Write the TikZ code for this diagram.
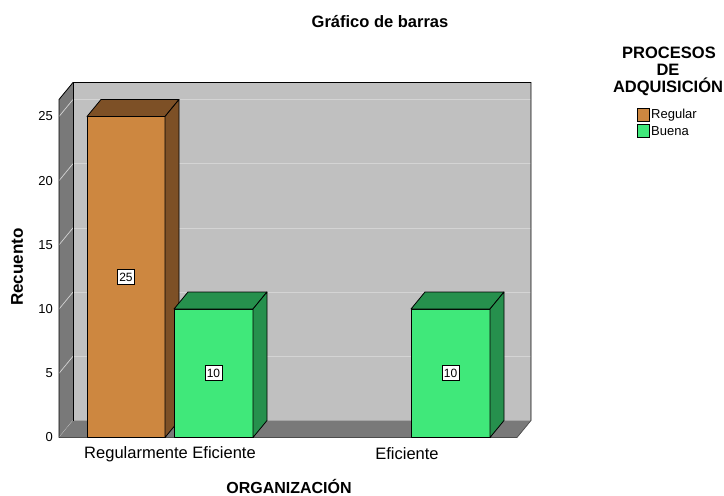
\documentclass[tikz,border=0pt]{standalone}
\usepackage{fontspec}
\setmainfont{Liberation Sans}
\begin{document}
\begin{tikzpicture}[x=1pt,y=-1pt,
  orf/.style={fill=orfront,draw=black,line width=0.8pt,line join=round},
  ors/.style={fill=orside,draw=black,line width=0.8pt,line join=round},
  grf/.style={fill=grfront,draw=black,line width=0.8pt,line join=round},
  grs/.style={fill=grside,draw=black,line width=0.8pt,line join=round},
  vlab/.style={draw=black,fill=white,font=\fontsize{12}{13}\selectfont,inner xsep=2pt,inner ysep=3pt,line width=0.6pt},
  tick/.style={font=\fontsize{13}{14}\selectfont,anchor=east,inner sep=0pt},
  lgt/.style={font=\bfseries\fontsize{16.5}{17}\selectfont,inner sep=0pt},
  grid/.style={draw=gridc,line width=0.7pt}]
\definecolor{orfront}{RGB}{205,135,64}
\definecolor{orside}{RGB}{125,80,38}
\definecolor{grfront}{RGB}{64,232,122}
\definecolor{grside}{RGB}{38,144,77}
\definecolor{wallc}{RGB}{121,121,121}
\definecolor{backc}{RGB}{192,192,192}
\definecolor{gridc}{RGB}{212,212,212}
\useasboundingbox[fill=white] (0,0) rectangle (724,496);
% back wall
\fill[backc] (73,82.5) rectangle (531,420.5);
\foreach \v in {5,10,15,20,25}{
  \draw[grid] (73,{420.5-\v*12.84}) -- (531,{420.5-\v*12.84});
}
% left wall
\fill[wallc] (59,437.5) -- (59,99.5) -- (73,82.5) -- (73,420.5) -- cycle;
\foreach \v in {0,5,10,15,20,25}{
  \draw[grid] (59,{437.5-\v*12.84}) -- (73,{420.5-\v*12.84});
}
% floor
\fill[wallc] (59,437.5) -- (517,437.5) -- (531,420.5) -- (73,420.5) -- cycle;
\draw[black!70,line width=0.7pt] (59,437.5) -- (517,437.5) -- (531,420.5);
\draw[black,line width=0.8pt] (59,437.5) -- (59,99.5) -- (73,82.5) -- (531,82.5) -- (531,420.5);
\draw[black,line width=0.6pt] (73,82.5) -- (73,420.5);
% tick labels
\foreach \v in {0,5,10,15,20,25}{
  \node[tick] (t\v) at (53,{437.5-\v*12.84}) {\v};
}
% bar 1 orange
\draw[orf] (87,437.5) rectangle (165,116.5);
\draw[ors] (87,116.5) -- (101,99.5) -- (179,99.5) -- (165,116.5) -- cycle;
\draw[ors] (165,437.5) -- (165,116.5) -- (179,99.5) -- (179,420.5) -- cycle;
% bar 2 green
\draw[grf] (174,437.5) rectangle (253,309);
\draw[grs] (174,309) -- (188,292) -- (267,292) -- (253,309) -- cycle;
\draw[grs] (253,437.5) -- (253,309) -- (267,292) -- (267,420.5) -- cycle;
% bar 3 green
\draw[grf] (411,437.5) rectangle (490,309);
\draw[grs] (411,309) -- (425,292) -- (504,292) -- (490,309) -- cycle;
\draw[grs] (490,437.5) -- (490,309) -- (504,292) -- (504,420.5) -- cycle;
% value labels
\node[vlab] (l1) at (126,277) {25};
\node[vlab] (l2) at (213.5,373) {10};
\node[vlab] (l3) at (450.5,373) {10};
% titles
\node[font=\bfseries\fontsize{16.5}{18}\selectfont] (title) at (380,22) {Gráfico de barras};
\node[font=\bfseries\fontsize{17}{18}\selectfont,rotate=90] (ylab) at (17,267) {Recuento};
\node[font=\fontsize{16.5}{18}\selectfont] (c1) at (170,454) {Regularmente Eficiente};
\node[font=\fontsize{16.5}{18}\selectfont] (c2) at (407,454) {Eficiente};
\node[font=\bfseries\fontsize{16}{18}\selectfont,inner sep=0pt,anchor=base] (xlab) at (289,493) {ORGANIZACIÓN};
% legend
\node[lgt] (lt1) at (669,53) {PROCESOS};
\node[lgt] (lt2) at (668,70) {DE};
\node[lgt,anchor=base] (lt3) at (668,92) {ADQUISICIÓN};
\draw[fill=orfront,draw=black,line width=0.6pt] (637,108) rectangle (649,121);
\node[font=\fontsize{13}{14}\selectfont,anchor=west,inner sep=0pt] (lg1) at (651,115) {Regular};
\draw[fill=grfront,draw=black,line width=0.6pt] (637,124) rectangle (649,137);
\node[font=\fontsize{13}{14}\selectfont,anchor=west,inner sep=0pt] (lg2) at (651,131) {Buena};
\end{tikzpicture}
\end{document}
